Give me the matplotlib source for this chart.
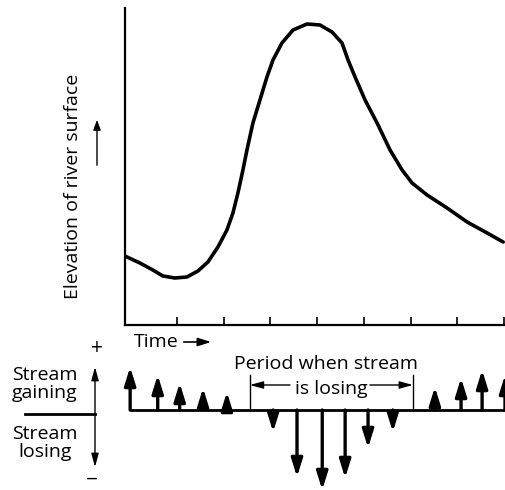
import matplotlib
matplotlib.use("Agg")
import matplotlib.pyplot as plt

plt.rcParams['font.family'] = ['Open Sans', 'DejaVu Sans']

W, H = 506, 490

# Hydrograph (time units, elevation units)
time = [-0.113, 0.208, 0.486, 0.70, 0.957, 1.214, 1.45, 1.664, 1.878, 2.071,
        2.199, 2.306, 2.413, 2.499, 2.627, 2.777, 2.927, 3.056, 3.248, 3.484,
        3.784, 4.062, 4.319, 4.533, 4.662, 4.812, 5.026, 5.283, 5.561, 5.818,
        6.032, 6.353, 6.781, 7.210, 7.638, 7.981]
elevation = [6.9, 6.2, 5.5, 4.9, 4.7, 4.8, 5.4, 6.3, 7.8, 9.5,
             11.2, 13.2, 15.5, 17.5, 20.2, 22.5, 24.8, 26.5, 28.2, 29.5,
             30.1, 30.0, 29.3, 28.2, 26.5, 24.8, 22.5, 20.2, 17.5, 15.5,
             14.2, 13.0, 11.7, 10.3, 9.2, 8.3]
tick_times = [1, 2, 3, 4, 5, 6, 7, 8]

# Exchange arrows (positive = gaining, negative = losing)
flux_time = [0.0, 0.59, 1.06, 1.56, 2.07,
             3.06, 3.57, 4.11, 4.60, 5.09, 5.62,
             6.52, 7.08, 7.53, 8.02]
flux_value = [4.3, 3.5, 2.7, 2.2, 1.8,
              -2.2, -6.7, -8.0, -6.8, -3.8, -2.2,
              2.3, 3.2, 4.0, 3.5]
losing_start, losing_end = 2.56, 6.05

fig = plt.figure(figsize=(W / 100, H / 100), dpi=100)

def fx(x):
    return x / W

def fy(y):
    return 1 - y / H

XL = (-0.11, 8.02)
FS = 14

# ---- top panel
ax = fig.add_axes([fx(125), fy(325), fx(505) - fx(125), fy(8) - fy(325)])
ax.plot(time, elevation, color='black', lw=2.6, solid_capstyle='round',
        solid_joinstyle='round')
ax.set_xlim(*XL)
ax.set_ylim(0, 31.7)
for s in ['top', 'right']:
    ax.spines[s].set_visible(False)
for s in ['left', 'bottom']:
    ax.spines[s].set_linewidth(1.6)
ax.set_xticks(tick_times)
ax.set_xticklabels([])
ax.set_yticks([])
ax.tick_params(axis='x', direction='in', length=5.5, width=1.2)

fig.text(fx(73), fy(186), 'Elevation of river surface', rotation=90,
         ha='center', va='center', fontsize=FS)
fig.add_artist(matplotlib.patches.FancyArrowPatch(
    (fx(97), fy(168)), (fx(97), fy(117)), transform=fig.transFigure,
    arrowstyle='-|>,head_length=0.6,head_width=0.22', mutation_scale=10,
    lw=1.0, color='black'))

fig.text(fx(134), fy(342), 'Time', ha='left', va='center', fontsize=FS)
fig.add_artist(matplotlib.patches.FancyArrowPatch(
    (fx(181), fy(342)), (fx(214), fy(342)), transform=fig.transFigure,
    arrowstyle='-|>,head_length=0.8,head_width=0.25', mutation_scale=10,
    lw=1.2, color='black'))

# ---- bottom panel
bx = fig.add_axes([fx(125), fy(490), fx(505) - fx(125), fy(340) - fy(490)])
bx.set_xlim(*XL)
bx.set_ylim(-8.0, 7.0)
bx.axis('off')
bx.plot([0, 8.02], [0, 0], color='black', lw=2.0, solid_capstyle='butt')
for t, v in zip(flux_time, flux_value):
    bx.annotate('', xy=(t, v), xytext=(t, 0), annotation_clip=False,
                arrowprops=dict(arrowstyle='-|>,head_length=0.9,head_width=0.28',
                                mutation_scale=12, lw=2.4, color='black',
                                shrinkA=0, shrinkB=0))

bx.plot([losing_start, losing_start], [0, 3.5], color='black', lw=1.0)
bx.plot([losing_end, losing_end], [0, 3.5], color='black', lw=1.0)
bx.annotate('', xy=(losing_start, 2.5), xytext=(3.42, 2.5),
            arrowprops=dict(arrowstyle='-|>,head_length=0.8,head_width=0.22',
                            mutation_scale=10, lw=1.0, color='black',
                            shrinkA=0, shrinkB=0))
bx.annotate('', xy=(losing_end, 2.5), xytext=(5.13, 2.5),
            arrowprops=dict(arrowstyle='-|>,head_length=0.8,head_width=0.22',
                            mutation_scale=10, lw=1.0, color='black',
                            shrinkA=0, shrinkB=0))
fig.text(fx(326), fy(364), 'Period when stream', ha='center', va='center', fontsize=FS)
fig.text(fx(331), fy(389), 'is losing', ha='center', va='center', fontsize=FS)

# left legend of the bottom panel
fig.text(fx(45), fy(384), 'Stream\ngaining', ha='center', va='center',
         fontsize=FS, linespacing=0.95)
fig.text(fx(45), fy(443), 'Stream\nlosing', ha='center', va='center',
         fontsize=FS, linespacing=0.95)
fig.text(fx(97), fy(348), '+', ha='center', va='center', fontsize=15)
fig.text(fx(92), fy(480), '\u2212', ha='center', va='center', fontsize=15)
fig.add_artist(matplotlib.lines.Line2D([fx(25), fx(95)], [fy(414), fy(414)],
                                       transform=fig.transFigure, color='black', lw=2.0))
for y2 in (367, 467):
    fig.add_artist(matplotlib.patches.FancyArrowPatch(
        (fx(95), fy(414)), (fx(95), fy(y2)), transform=fig.transFigure,
        arrowstyle='-|>,head_length=0.8,head_width=0.22', mutation_scale=10,
        lw=1.0, color='black', shrinkA=0, shrinkB=0))

fig.savefig('out.png', dpi=100)
